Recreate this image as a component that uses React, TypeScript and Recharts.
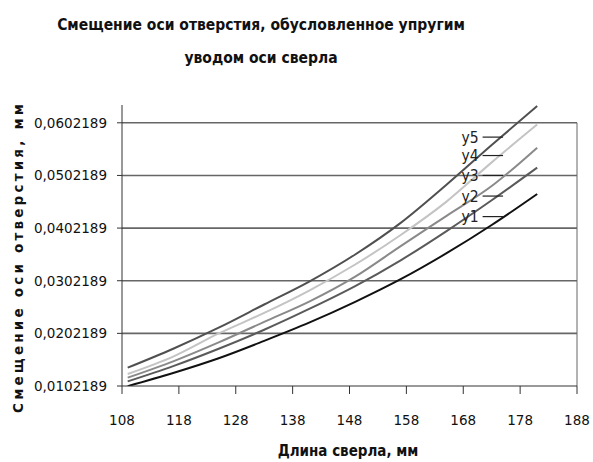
import React from 'react';
import { LineChart, Line, XAxis, YAxis, ReferenceLine } from 'recharts';

// Drill length, mm
const drillLength = [109, 117, 125, 133, 141, 149, 157, 165, 173, 181];

// Hole axis displacement, mm, for the five cases
const y1 = [0.0102, 0.0127, 0.0155, 0.0188, 0.0223, 0.0262, 0.0305, 0.0354, 0.0408, 0.0467];
const y2 = [0.0111, 0.0140, 0.0173, 0.0209, 0.0249, 0.0292, 0.0341, 0.0396, 0.0455, 0.0517];
const y3 = [0.0118, 0.0149, 0.0185, 0.0224, 0.0263, 0.0310, 0.0368, 0.0425, 0.0482, 0.0555];
const y4 = [0.0125, 0.0158, 0.0202, 0.0241, 0.0284, 0.0333, 0.0389, 0.0452, 0.0527, 0.0599];
const y5 = [0.0137, 0.0173, 0.0213, 0.0257, 0.0301, 0.0352, 0.0412, 0.0484, 0.0560, 0.0634];

const xTicks = [108, 118, 128, 138, 148, 158, 168, 178, 188];
const yTicks = [0.0102189, 0.0202189, 0.0302189, 0.0402189, 0.0502189, 0.0602189];

const seriesNames = ['y1', 'y2', 'y3', 'y4', 'y5'];
const seriesColors = ['#111111', '#5a5a5a', '#8a8a8a', '#c4c4c4', '#505050'];
// Series name tags with their leader lines: value level of each tag
const tagLevels = [0.0424, 0.0463, 0.0502189, 0.054, 0.0575];

const data = drillLength.map((x, i) => ({ x, y1: y1[i], y2: y2[i], y3: y3[i], y4: y4[i], y5: y5[i] }));

const fmtY = (v: number) => v.toFixed(7).replace('.', ',');
const tickFont = { fontFamily: 'DejaVu Sans', fontSize: 13.5, fill: '#111' };

export default function App() {
  return (
    <div style={{ position: 'absolute', left: 0, top: 0, width: 593, height: 462, background: '#fff' }}>
      <div
        style={{
          position: 'absolute',
          left: 0,
          top: 9,
          width: 522,
          textAlign: 'center',
          fontFamily: "'DejaVu Sans Condensed', sans-serif",
          fontWeight: 'bold',
          fontSize: 15.5,
          lineHeight: '33px',
          color: '#111',
        }}
      >
        Смещение оси отверстия, обусловленное упругим
        <br />
        уводом оси сверла
      </div>
      <LineChart
        width={593}
        height={462}
        data={data}
        margin={{ top: 105, right: 16, bottom: 46, left: 8 }}
        style={{ position: 'absolute', left: 0, top: 0 }}
      >
        <XAxis
          dataKey="x"
          type="number"
          domain={[108, 188]}
          ticks={xTicks}
          height={30}
          tickSize={8}
          tickMargin={21}
          interval={0}
          stroke="#333"
          tick={tickFont}
        />
        <YAxis
          type="number"
          domain={[0.0102189, 0.0636]}
          ticks={yTicks}
          width={114}
          tickSize={5}
          tickMargin={10}
          interval={0}
          tickFormatter={fmtY}
          stroke="#333"
          tick={tickFont}
          allowDataOverflow
        />
        {yTicks.slice(1).map((v) => (
          <ReferenceLine
            key={'g' + v}
            segment={[
              { x: 108, y: v },
              { x: 188, y: v },
            ]}
            stroke="#666"
            strokeWidth={1.6}
          />
        ))}
        <ReferenceLine
          segment={[
            { x: 188, y: 0.0102189 },
            { x: 188, y: 0.0602189 },
          ]}
          stroke="#666"
        />
        {seriesNames.map((name, i) => (
          <Line
            key={name}
            type="monotone"
            dataKey={name}
            stroke={seriesColors[i]}
            strokeWidth={2}
            dot={false}
            isAnimationActive={false}
          />
        ))}
        {seriesNames.map((name, i) => (
          <ReferenceLine
            key={'t' + name}
            segment={[
              { x: 171.4, y: tagLevels[i] },
              { x: 175, y: tagLevels[i] },
            ]}
            stroke="#222"
            strokeWidth={1.2}
            label={{
              value: name,
              position: 'left',
              offset: 4,
              fill: '#222',
              fontFamily: 'DejaVu Sans Condensed',
              fontSize: 15.5,
            }}
          />
        ))}
      </LineChart>
      <div
        style={{
          position: 'absolute',
          left: 230,
          top: 442,
          width: 236,
          textAlign: 'center',
          fontFamily: "'DejaVu Sans Condensed', sans-serif",
          fontWeight: 'bold',
          fontSize: 15,
          color: '#111',
        }}
      >
        Длина сверла, мм
      </div>
      <div
        style={{
          position: 'absolute',
          left: 18,
          top: 257,
          transform: 'translate(-50%, -50%) rotate(-90deg)',
          whiteSpace: 'nowrap',
          fontFamily: "'DejaVu Sans', sans-serif",
          fontWeight: 'bold',
          fontSize: 13.5,
          letterSpacing: 3.2,
          color: '#111',
        }}
      >
        Смещение оси отверстия, мм
      </div>
    </div>
  );
}
